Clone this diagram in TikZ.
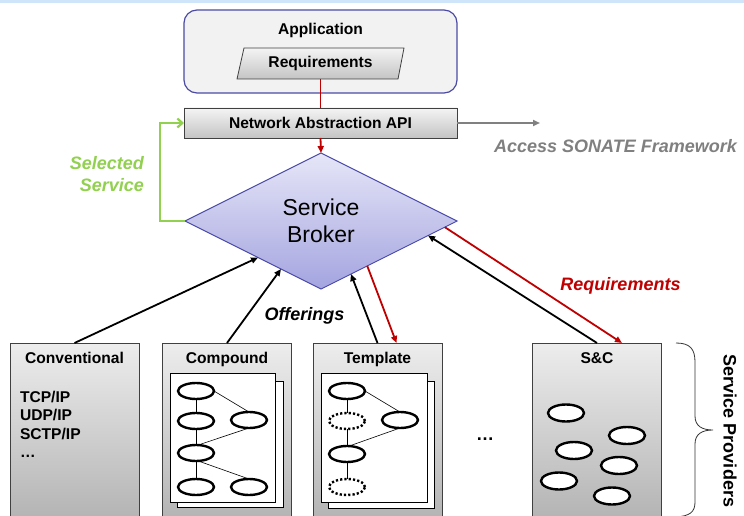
\documentclass[tikz,border=0pt]{standalone}
\usepackage{fontspec}
\setmainfont{Liberation Sans}
\usetikzlibrary{shapes.geometric,arrows.meta,calc}
\definecolor{bandblue}{HTML}{CFE6FA}
\definecolor{appblue}{HTML}{4B4BA6}
\definecolor{appfill}{HTML}{F2F2F2}
\definecolor{redarr}{HTML}{C00000}
\definecolor{greenarr}{HTML}{92D050}
\definecolor{grayarr}{HTML}{808080}
\definecolor{boxborder}{HTML}{404040}
\definecolor{boxtop}{HTML}{EDEDED}
\definecolor{boxbot}{HTML}{AFAFAF}
\definecolor{apitop}{HTML}{F4F4F4}
\definecolor{apibot}{HTML}{C4C4C4}
\definecolor{brokertop}{HTML}{E6E6F8}
\definecolor{brokerbot}{HTML}{A4A4E0}
\definecolor{brokerline}{HTML}{4848A8}
\begin{document}
\begin{tikzpicture}[x=1pt,y=-1pt,
  every node/.style={inner sep=0pt, outer sep=0pt},
  lbl/.style={font=\fontsize{15.6}{18}\selectfont\bfseries},
  note/.style={font=\fontsize{18}{22}\selectfont\bfseries\itshape},
  graybox/.style={draw=boxborder, line width=0.8pt, top color=boxtop, bottom color=boxbot},
  provider/.style={graybox, minimum width=129pt, minimum height=190pt, anchor=north},
  paper/.style={draw=black, line width=0.6pt, fill=white, anchor=north west},
  oval/.style={ellipse, draw=black, line width=2.4pt, fill=white, minimum width=36pt, minimum height=16pt},
  dotoval/.style={oval, dash pattern=on 2.2pt off 2.1pt},
  scoval/.style={oval, minimum height=17pt},
  link/.style={draw=black, line width=0.6pt},
  offer/.style={draw=black, line width=1.8pt, -{Triangle[length=7pt,width=6pt]}},
  reqarr/.style={draw=redarr, line width=1.8pt, -{Triangle[length=7pt,width=6pt]}},
]
\useasboundingbox (0,0) rectangle (744,516);
\clip (0,0) rectangle (744,516);
\fill[white] (0,0) rectangle (744,516);
\fill[bandblue] (0,0) rectangle (744,3.5);

% Application
\node[draw=appblue, line width=1.2pt, fill=appfill, rounded corners=13pt,
      minimum width=273pt, minimum height=83pt] (app) at (320.5,51.5) {};
\node[lbl, anchor=base] (apptitle) at (320.5,34.5) {Application};
\path[draw=boxborder, line width=0.8pt, top color=apitop, bottom color=apibot]
  (244,48) -- (404,48) -- (398,79) -- (237,79) -- cycle;
\node[lbl, minimum width=161pt, minimum height=31pt] (req) at (320.5,63.5) {Requirements};

% API
\node[graybox, top color=apitop, bottom color=apibot, lbl,
      minimum width=273pt, minimum height=30pt] (api) at (320.5,123) {Network Abstraction API};

% Broker
\node[diamond, draw=brokerline, line width=0.9pt, top color=brokertop, bottom color=brokerbot,
      minimum width=272pt, minimum height=136pt, align=center,
      font=\fontsize{23}{27}\selectfont] (broker) at (321,221) {Service\\Broker};

% top connectors
\draw[draw=redarr, line width=1.8pt] (req.south) -- (api.north);
\draw[reqarr] (api.south) -- (broker.north);
\coordinate (sonate) at (540,123);
\draw[draw=grayarr, line width=1.8pt, -{Triangle[length=7pt,width=6pt]}] (api.east) -- (sonate);
\draw[draw=greenarr, line width=2.2pt, -{Straight Barb[length=5pt,width=9pt]}]
  (broker.west) -- ++(-25,0) |- (api.west);

% providers
\node[provider] (conv) at (74.5,343) {};
\node[provider] (comp) at (227,343) {};
\node[provider] (tmpl) at (377.5,343) {};
\node[provider] (sc) at (597,343) {};
\node[lbl, anchor=base] (convt) at ($(conv.north)+(0,20)$) {Conventional};
\node[lbl, anchor=base] (compt) at ($(comp.north)+(0,20)$) {Compound};
\node[lbl, anchor=base] (tmplt) at ($(tmpl.north)+(0,20)$) {Template};
\node[lbl, anchor=base] (sct) at ($(sc.north)+(0,20)$) {S\&C};
\node[lbl, anchor=north west, align=left, font=\fontsize{15.6}{18.5}\selectfont\bfseries]
  (convlist) at (20,391) {TCP/IP\\UDP/IP\\SCTP/IP\\…};

% compound graph
\node[paper, minimum width=106pt, minimum height=126pt] (compback) at (177,381) {};
\node[paper, minimum width=105pt, minimum height=129pt] (compfront) at (170,373) {};
\node[oval] (c1) at (196,391) {};
\node[oval] (c2) at (196,421) {};
\node[oval] (c3) at (249,420) {};
\node[oval] (c4) at (196,453) {};
\node[oval] (c5) at (196,487) {};
\node[oval] (c6) at (249,487) {};
\draw[link] (c1) -- (c2);
\draw[link] (c2) -- (c4);
\draw[link] (c4) -- (c5);
\draw[link] (c1.east) -- (c3.north);
\draw[link] (c3.south) -- (c4.75);
\draw[link] (c4.-75) -- (c6.north);

% template graph
\node[paper, minimum width=106pt, minimum height=127pt] (tmplback) at (328,381) {};
\node[paper, minimum width=106pt, minimum height=129pt] (tmplfront) at (321,373) {};
\node[oval] (t1) at (347,391) {};
\node[dotoval] (t2) at (347,421) {};
\node[oval] (t3) at (400,420) {};
\node[oval] (t4) at (347,454) {};
\node[dotoval] (t5) at (347,487) {};
\draw[link] (t1) -- (t2);
\draw[link] (t2) -- (t4);
\draw[link] (t4) -- (t5);
\draw[link] (t1.east) -- (t3.north);
\draw[link] (t3.south) -- (t4.75);

% S&C
\node[scoval] (s1) at (566,413) {};
\node[scoval] (s2) at (627,435.5) {};
\node[scoval] (s3) at (574,450.5) {};
\node[scoval] (s4) at (619,465.5) {};
\node[scoval] (s5) at (559,481) {};
\node[scoval] (s6) at (612,496) {};

\node[font=\fontsize{18}{22}\selectfont\bfseries, anchor=base] (dots) at (485,440) {…};

% offerings / requirements
\draw[offer] (conv.north) -- ($(broker.west)!0.537!(broker.south)$);
\draw[offer] (comp.north) -- ($(broker.west)!0.706!(broker.south)$);
\draw[offer] (tmpl.north) -- ($(broker.south)!0.22!(broker.east)$);
\draw[reqarr] ($(broker.south)!0.34!(broker.east)$) -- ($(tmpl.north)+(19,0)$);
\draw[offer] (sc.north) -- ($(broker.south)!0.787!(broker.east)$);
\draw[reqarr] ($(broker.south)!0.91!(broker.east)$) -- ($(sc.north)+(25,0)$);

% labels
\node[note, anchor=base] (offlbl) at (304.5,320) {Offerings};
\node[note, anchor=base, text=redarr] (reqlbl) at (620.5,290) {Requirements};
\node[note, anchor=base, text=grayarr] (sonatelbl) at (615.5,153) {Access SONATE Framework};
\node[note, text=greenarr, align=right, anchor=north east] (sellbl) at (144,156) {Selected\\Service};

% brace
\draw[line width=0.8pt, draw=black!80] (676,343) .. controls (690,343) and (695,349) .. (695,362)
  -- (695,416) .. controls (695,426) and (702,430) .. (713,430)
  .. controls (702,430) and (695,434) .. (695,444) -- (695,502)
  .. controls (695,512) and (690,516) .. (676,517);
\node[font=\fontsize{18}{22}\selectfont\bfseries, rotate=-90] (splbl) at (730,431) {Service Providers};
\end{tikzpicture}
\end{document}
